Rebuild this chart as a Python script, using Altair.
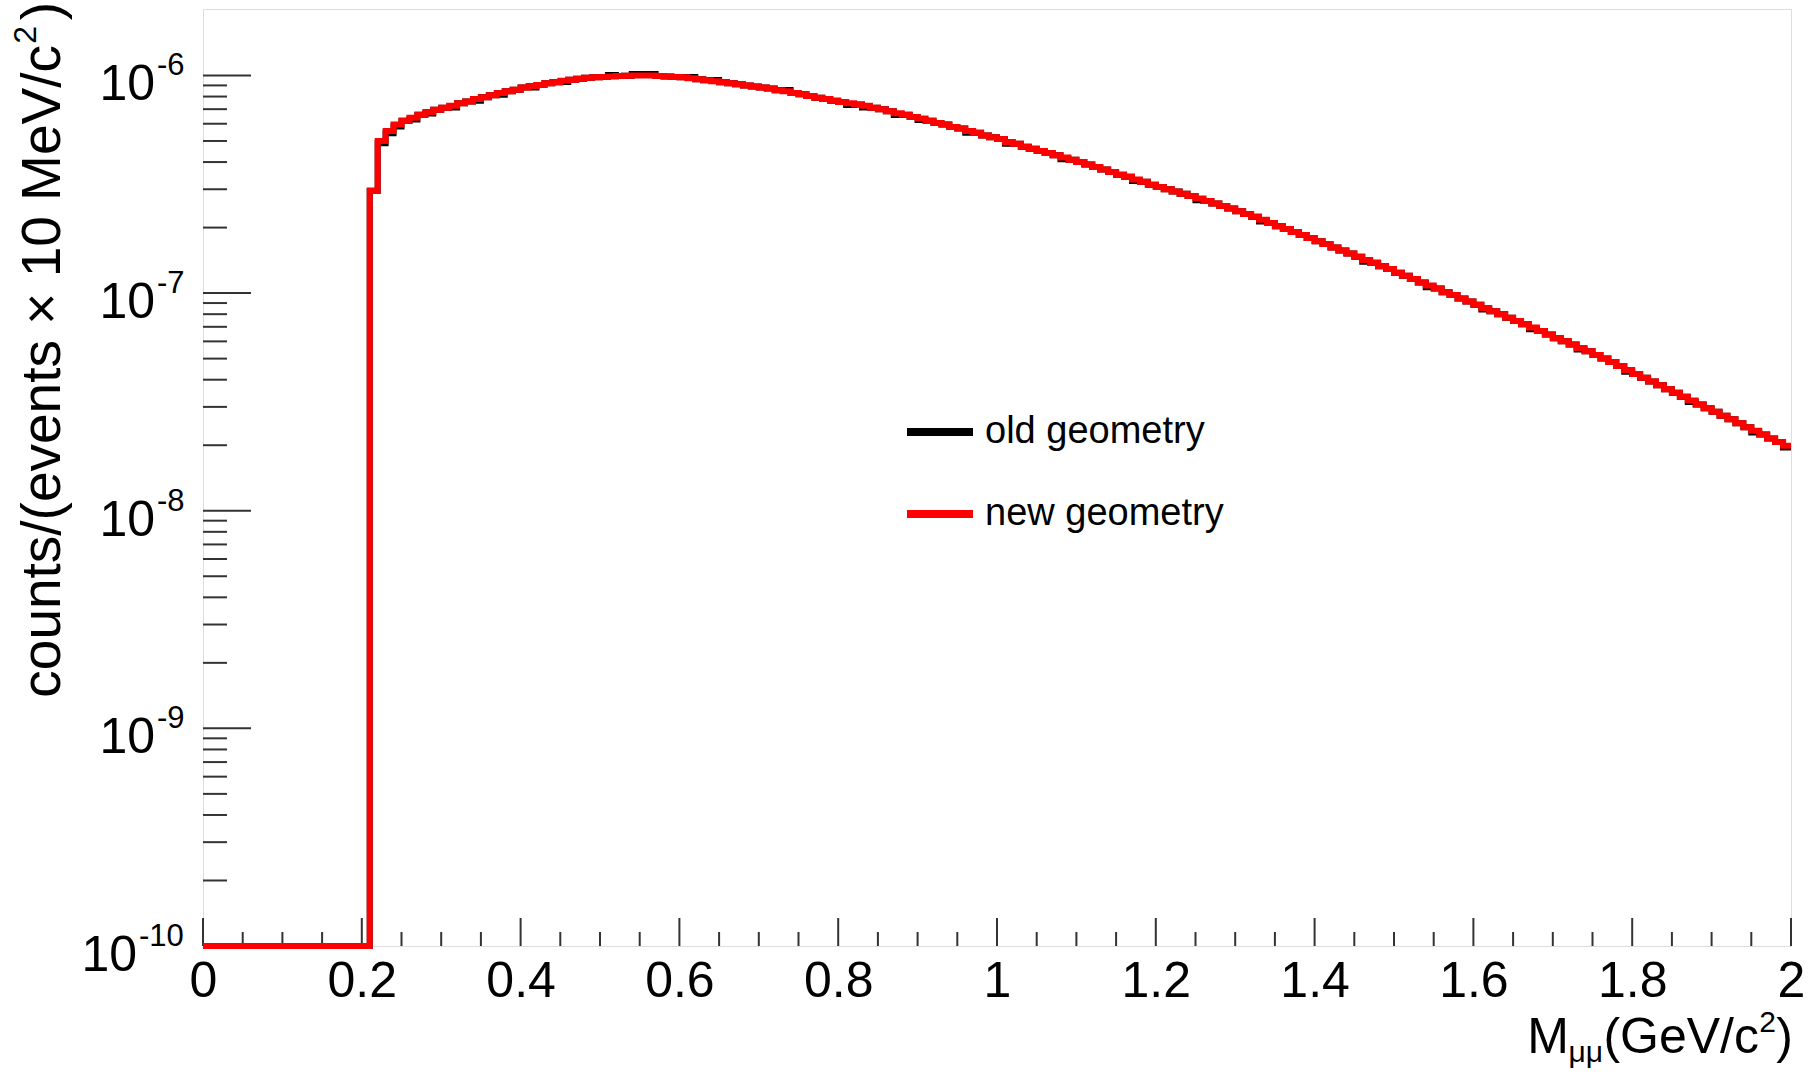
import altair as alt
import pandas as pd

# ---------------------------------------------------------------------------
# Dimuon invariant-mass spectrum, 10 MeV/c^2 bins from 0 to 2 GeV/c^2
# ---------------------------------------------------------------------------
BIN_WIDTH = 0.01
X_MIN, X_MAX = 0.0, 2.0
Y_MIN, Y_MAX = 1e-10, 2.02e-6

# Bins below the dimuon threshold are empty; on a log axis they sit on the floor.
empty_bin_edges = [round(i * BIN_WIDTH, 2) for i in range(21)]  # 0.00 ... 0.20

# Filled bins start at 0.21 GeV/c^2; contents in units of 1e-7
first_filled_edge = 0.21
new_geometry = [
    2.95, 5.00, 5.55, 5.95, 6.20, 6.40, 6.60, 6.80, 6.95, 7.10,      # 0.21-0.30
    7.25, 7.45, 7.60, 7.80, 7.95, 8.10, 8.30, 8.45, 8.60, 8.80,      # 0.31-0.40
    8.95, 9.05, 9.20, 9.30, 9.45, 9.55, 9.65, 9.75, 9.80, 9.85,      # 0.41-0.50
    9.90, 9.95, 9.98, 10.0, 10.0, 10.0, 9.95, 9.90, 9.85, 9.80,      # 0.51-0.60
    9.70, 9.60, 9.50, 9.40, 9.30, 9.20, 9.10, 9.00, 8.90, 8.80,      # 0.61-0.70
    8.70, 8.55, 8.45, 8.30, 8.20, 8.05, 7.90, 7.80, 7.65, 7.55,      # 0.71-0.80
    7.45, 7.35, 7.25, 7.10, 7.00, 6.85, 6.70, 6.60, 6.45, 6.35,      # 0.81-0.90
    6.20, 6.05, 5.95, 5.80, 5.70, 5.55, 5.45, 5.30, 5.20, 5.10,      # 0.91-1.00
    4.95, 4.85, 4.70, 4.60, 4.50, 4.40, 4.30, 4.20, 4.10, 4.00,      # 1.01-1.10
    3.90, 3.80, 3.70, 3.60, 3.50, 3.42, 3.33, 3.25, 3.15, 3.07,      # 1.11-1.20
    3.00, 2.93, 2.86, 2.79, 2.72, 2.65, 2.58, 2.51, 2.45, 2.38,      # 1.21-1.30
    2.31, 2.24, 2.17, 2.10, 2.03, 1.97, 1.91, 1.85, 1.79, 1.73,      # 1.31-1.40
    1.68, 1.62, 1.57, 1.52, 1.47, 1.42, 1.38, 1.33, 1.29, 1.24,      # 1.41-1.50
    1.20, 1.16, 1.12, 1.085, 1.05, 1.01, 0.98, 0.945, 0.915, 0.885,  # 1.51-1.60
    0.855, 0.825, 0.80, 0.77, 0.745, 0.72, 0.695, 0.67, 0.645, 0.62, # 1.61-1.70
    0.60, 0.58, 0.56, 0.54, 0.52, 0.50, 0.482, 0.462, 0.443, 0.425, # 1.71-1.80
    0.408, 0.392, 0.377, 0.362, 0.348, 0.334, 0.321, 0.308, 0.296, 0.285,  # 1.81-1.90
    0.273, 0.263, 0.252, 0.242, 0.233, 0.224, 0.215, 0.207, 0.199,  # 1.91-1.99
]

# The old geometry agrees bin by bin except for these bins (index: content, 1e-7)
old_geometry_differences = {
    1: 4.88, 2: 5.42, 3: 5.83, 5: 6.28, 7: 6.68, 10: 7.12, 13: 7.66,
    16: 8.16, 20: 8.80, 24: 9.32, 30: 10.05, 33: 10.15, 34: 10.15, 35: 10.15,
    40: 9.84, 43: 9.53, 52: 8.58, 60: 7.32, 62: 7.12, 66: 6.58, 69: 6.24,
    75: 5.45, 80: 4.86, 87: 4.12, 96: 3.27, 104: 2.67, 112: 2.13, 125: 1.395,
    133: 1.065, 140: 0.84, 146: 0.683, 152: 0.55, 158: 0.435, 166: 0.316,
    174: 0.229, 178: 0.195,
}
old_geometry = list(new_geometry)
for idx, val in old_geometry_differences.items():
    old_geometry[idx] = val

SERIES = ["old geometry", "new geometry"]
COLORS = ["#000000", "#ff0000"]


def histogram_frame(contents, name):
    edges = list(empty_bin_edges)
    values = [Y_MIN] * len(empty_bin_edges)
    for i, c in enumerate(contents):
        edges.append(round(first_filled_edge + i * BIN_WIDTH, 2))
        values.append(c * 1e-7)
    # closing edge of the last bin for the step outline
    edges.append(X_MAX)
    values.append(contents[-1] * 1e-7)
    return pd.DataFrame({"mass": edges, "counts": values, "series": name})


old_df = histogram_frame(old_geometry, SERIES[0])
new_df = histogram_frame(new_geometry, SERIES[1])

# Axis tick positions
x_major = [0.0, 0.2, 0.4, 0.6, 0.8, 1.0, 1.2, 1.4, 1.6, 1.8, 2.0]
x_minor = [round(0.05 * i, 2) for i in range(41) if i % 4 != 0]
y_major = [1e-10, 1e-9, 1e-8, 1e-7, 1e-6]
y_minor = [k * 10.0 ** e for e in range(-10, -6) for k in range(2, 10)]
y_label_exponents = ["-9", "-8", "-7", "-6"]
y_label_values = [1e-9, 1e-8, 1e-7, 1e-6]

W, H = 1588, 937
FONT = "Liberation Sans"
TICK_COLOR = "#333333"

xscale = alt.Scale(domain=[X_MIN, X_MAX], nice=False, zero=False)
yscale = alt.Scale(type="log", domain=[Y_MIN, Y_MAX], nice=False)

x_axis = alt.Axis(
    values=x_major, format="~g", labelFontSize=50, labelFont=FONT,
    labelColor="black", ticks=False, tickSize=0, domain=False, grid=False,
    title=None, labelPadding=10, labelFlush=False, labelOverlap=False,
    labelBaseline="top",
)

legend = alt.Legend(
    orient="none", legendX=700, legendY=386, title=None,
    symbolType="stroke", symbolSize=4356, symbolStrokeWidth=8,
    labelFontSize=38, labelFont=FONT, labelColor="black", labelOffset=8,
    rowPadding=26, padding=0, labelLimit=0,
)
color = alt.Color("series:N", scale=alt.Scale(domain=SERIES, range=COLORS),
                  legend=legend)


def hist_layer(df):
    return alt.Chart(df).mark_line(
        interpolate="step-after", strokeWidth=6, strokeJoin="miter",
        strokeCap="butt", clip=False,
    ).encode(
        x=alt.X("mass:Q", scale=xscale, axis=x_axis),
        y=alt.Y("counts:Q", scale=yscale, axis=None),
        color=color,
        order=alt.Order("mass:Q"),
    )


# Inward ticks drawn as rules
x_major_ticks = alt.Chart(pd.DataFrame({"m": x_major})).mark_rule(
    stroke=TICK_COLOR, strokeWidth=2).encode(
    x=alt.X("m:Q", scale=xscale, axis=x_axis), y=alt.value(H), y2=alt.value(H - 28))
x_minor_ticks = alt.Chart(pd.DataFrame({"m": x_minor})).mark_rule(
    stroke=TICK_COLOR, strokeWidth=2).encode(
    x=alt.X("m:Q", scale=xscale, axis=x_axis), y=alt.value(H), y2=alt.value(H - 14))
y_major_ticks = alt.Chart(pd.DataFrame({"v": y_major})).mark_rule(
    stroke=TICK_COLOR, strokeWidth=2).encode(
    y=alt.Y("v:Q", scale=yscale, axis=None), x=alt.value(0), x2=alt.value(48))
y_minor_ticks = alt.Chart(pd.DataFrame({"v": y_minor})).mark_rule(
    stroke=TICK_COLOR, strokeWidth=2).encode(
    y=alt.Y("v:Q", scale=yscale, axis=None), x=alt.value(0), x2=alt.value(24))

# Power-of-ten tick labels: base and superscript exponent
ylab = pd.DataFrame({"v": y_label_values, "e": y_label_exponents})
ylab_base = alt.Chart(ylab).mark_text(
    align="right", baseline="alphabetic", fontSize=50, font=FONT, dy=25,
    color="black").encode(
    y=alt.Y("v:Q", scale=yscale, axis=None), x=alt.value(-48), text=alt.value("10"))
ylab_exp = alt.Chart(ylab).mark_text(
    align="left", baseline="alphabetic", fontSize=31, font=FONT,
    color="black").encode(
    y=alt.Y("v:Q", scale=yscale, axis=None), x=alt.value(-46), text="e:N")

ylab_low = pd.DataFrame({"v": [1e-10], "e": ["-10"]})
ylab_low_base = alt.Chart(ylab_low).mark_text(
    align="right", baseline="alphabetic", fontSize=50, font=FONT, dy=25,
    color="black").encode(
    y=alt.Y("v:Q", scale=yscale, axis=None), x=alt.value(-66), text=alt.value("10"))
ylab_low_exp = alt.Chart(ylab_low).mark_text(
    align="left", baseline="alphabetic", fontSize=31, font=FONT,
    color="black").encode(
    y=alt.Y("v:Q", scale=yscale, axis=None), x=alt.value(-64), text="e:N")


def label(text, x, y, size, align="right", angle=0):
    kw = dict(align=align, baseline="alphabetic", fontSize=size, font=FONT,
              color="black")
    if angle:
        kw["angle"] = angle
    return alt.Chart(pd.DataFrame({"t": [text]})).mark_text(**kw).encode(
        x=alt.value(x), y=alt.value(y), text="t:N")


# x-axis title: M_{mu mu}(GeV/c^2), right-aligned to the frame
x_title = [
    label(")", 1590, 1044, 50),
    label("2", 1573, 1023, 30),
    label("(GeV/c", 1556, 1044, 50),
    label("\u03bc\u03bc", 1400, 1053, 30),
    label("M", 1366, 1044, 50),
]
# y-axis title, rotated, right-aligned to the top of the frame
y_title = [
    label(")", -143, -7, 55, angle=270),
    label("2", -167, 17, 32, angle=270),
    label("counts/(events \u00d7 10 MeV/c", -143, 36, 55, angle=270),
]

chart = alt.layer(
    x_minor_ticks, x_major_ticks, y_minor_ticks, y_major_ticks,
    hist_layer(old_df), hist_layer(new_df),
    ylab_base, ylab_exp, ylab_low_base, ylab_low_exp,
    *x_title, *y_title,
).properties(
    width=W, height=H,
    autosize=alt.AutoSizeParams(type="none"),
    padding={"left": 203, "top": 9, "right": 29, "bottom": 131},
    background="white",
).configure_view(
    stroke=TICK_COLOR, strokeWidth=2,
).configure(font=FONT)

chart.save("out.html", embed_options={"renderer": "svg", "actions": False})
